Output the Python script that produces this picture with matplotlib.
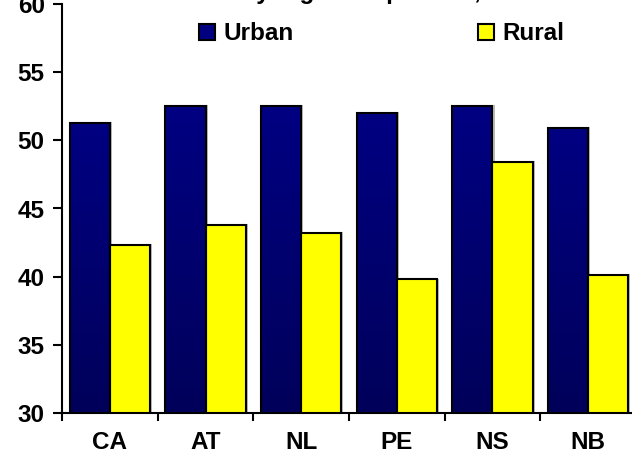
import numpy as np
import matplotlib
matplotlib.use("Agg")
import matplotlib.pyplot as plt
from matplotlib.patches import Rectangle
from matplotlib.colors import LinearSegmentedColormap
import matplotlib.patheffects as pe

# Values by region
regions = ["CA", "AT", "NL", "PE", "NS", "NB"]
urban = [51.3, 52.5, 52.5, 52.0, 52.5, 50.9]
rural = [42.3, 43.8, 43.2, 39.8, 48.4, 40.1]
yticks = [30, 35, 40, 45, 50, 55, 60]
series_names = ["Urban", "Rural"]
title_text = "Share of adults by region in percent, 2003"

plt.rcParams["font.family"] = ["Liberation Sans", "DejaVu Sans"]
plt.rcParams["font.weight"] = "bold"

W, H = 632, 461
fig = plt.figure(figsize=(W / 100, H / 100), dpi=100)
ax = fig.add_axes([62 / W, 48 / H, 574 / W, 409 / H])

x = np.arange(len(regions))
bw = 0.42
shadow = [pe.SimplePatchShadow(offset=(1.5, 0.6), shadow_rgbFace="0.55", alpha=0.6), pe.Normal()]

navy = "#000080"
bars_u = ax.bar(x, urban, width=-bw, align="edge", color=navy, edgecolor="none",
                zorder=2, path_effects=shadow)
bars_r = ax.bar(x, rural, width=bw, align="edge", color="#FFFF00", edgecolor="black",
                linewidth=1.5, zorder=2, path_effects=shadow)

ax.set_ylim(30, 60)
ax.set_xlim(-0.5, len(regions) - 0.5)

# vertical gradient inside the urban bars, lighter at the top
grad_cmap = LinearSegmentedColormap.from_list("navy_grad", ["#00005A", "#000082"])
grad = np.linspace(0, 1, 256).reshape(-1, 1)
for p in bars_u:
    x0, y1 = p.get_x(), p.get_y() + p.get_height()
    x1 = x0 + p.get_width()
    im = ax.imshow(grad, extent=(min(x0, x1), max(x0, x1), 30, y1), origin="lower",
                   aspect="auto", cmap=grad_cmap, zorder=2.1, interpolation="bilinear")
    im.set_clip_path(p)

ax.bar(x, urban, width=-bw, align="edge", fill=False, edgecolor="black",
       linewidth=1.5, zorder=2.2)

ax.set_ylim(30, 60)
ax.set_xlim(-0.5, len(regions) - 0.5)

for s in ["top", "right"]:
    ax.spines[s].set_visible(False)
for s in ["left", "bottom"]:
    ax.spines[s].set_linewidth(1.5)
    ax.spines[s].set_zorder(3)

ax.set_yticks(yticks)
ax.set_yticklabels([str(v) for v in yticks], fontsize=17.5, fontweight="bold")
ax.tick_params(axis="y", length=6.5, width=1.5, pad=6)

ax.set_xticks(x)
ax.set_xticklabels(regions, fontsize=17.5, fontweight="bold")
ax.set_xticks(np.arange(-0.5, len(regions)), minor=True)
ax.tick_params(axis="x", which="major", length=0, pad=13)
ax.tick_params(axis="x", which="minor", length=6, width=1.5)

handles = [Rectangle((0, 0), 1, 1, facecolor=navy, edgecolor="black", linewidth=1.5),
           Rectangle((0, 0), 1, 1, facecolor="#FFFF00", edgecolor="black", linewidth=1.5)]
leg = fig.legend(handles, series_names, loc="center", ncol=2,
                 bbox_to_anchor=(382 / W, 1 - 34 / H), frameon=False,
                 prop={"size": 17.5, "weight": "bold"}, handlelength=0.65,
                 handleheight=0.65, handletextpad=0.35, columnspacing=7.6)

fig.text(300 / W, 1 + 0.5 / H, title_text, ha="center", va="baseline",
         fontsize=17.5, fontweight="bold")

fig.savefig("out.png", dpi=100)
